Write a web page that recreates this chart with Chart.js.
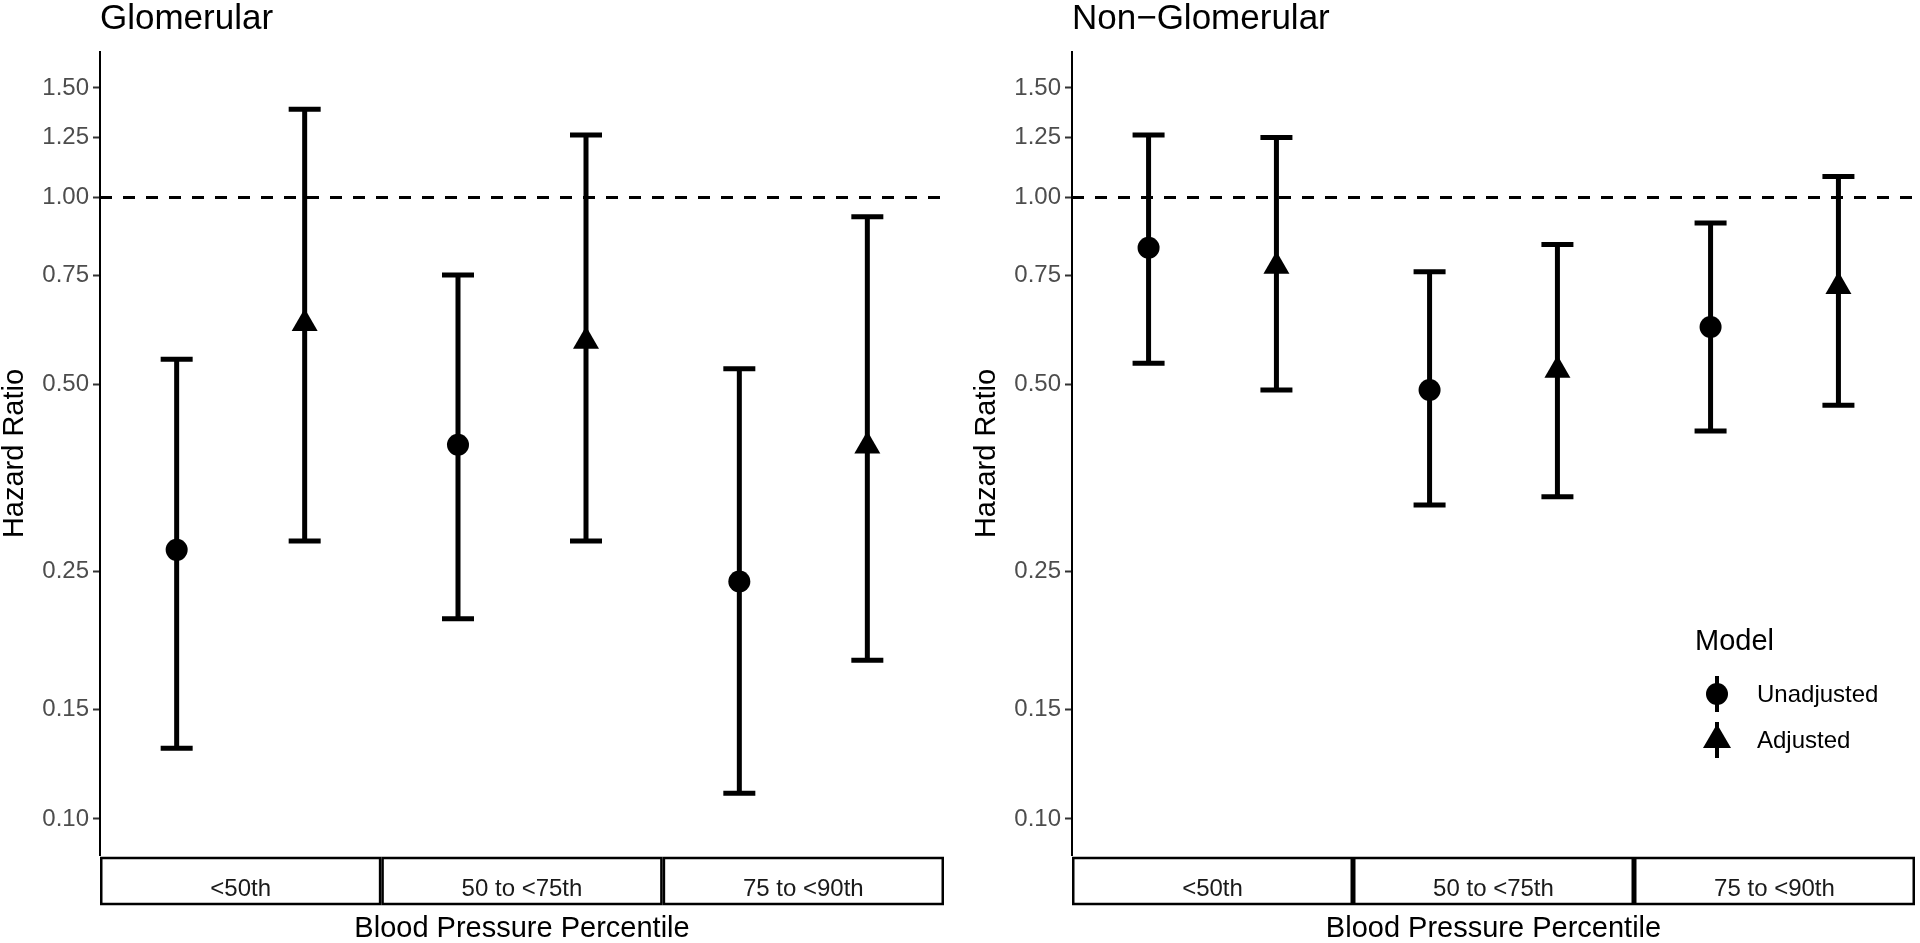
<!DOCTYPE html>
<html>
<head>
<meta charset="utf-8">
<script src="https://cdn.jsdelivr.net/npm/chart.js@4.4.1/dist/chart.umd.min.js"></script>
<style>
  html, body { margin: 0; padding: 0; background: #fff; }
  body { width: 1920px; height: 943px; position: relative; overflow: hidden; }
  canvas { position: absolute; top: 0; }
</style>
</head>
<body>
<canvas id="glom" width="960" height="943" style="left:0px"></canvas>
<canvas id="nonglom" width="958" height="943" style="left:972px"></canvas>
<script>
const categories = ['<50th', '50 to <75th', '75 to <90th'];
const models = ['Unadjusted', 'Adjusted'];
const yTicks = [0.10, 0.15, 0.25, 0.50, 0.75, 1.00, 1.25, 1.50];

// Glomerular
const glomUnadjHR = [0.271, 0.400, 0.241];
const glomUnadjLo = [0.130, 0.210, 0.110];
const glomUnadjHi = [0.549, 0.750, 0.530];
const glomAdjHR   = [0.627, 0.587, 0.398];
const glomAdjLo   = [0.280, 0.280, 0.180];
const glomAdjHi   = [1.387, 1.260, 0.931];

// Non-Glomerular
const nonUnadjHR = [0.830, 0.490, 0.619];
const nonUnadjLo = [0.541, 0.320, 0.421];
const nonUnadjHi = [1.260, 0.759, 0.910];
const nonAdjHR   = [0.775, 0.527, 0.719];
const nonAdjLo   = [0.490, 0.330, 0.463];
const nonAdjHi   = [1.249, 0.840, 1.081];

const FONT = "'Liberation Sans', Arial, Helvetica, sans-serif";
const DODGE = 0.2275;

// dashed reference line at HR = 1 plus the error bars, under the points
const errorBarPlugin = {
  id: 'errorBarPlugin',
  beforeDatasetsDraw(chart) {
    const { ctx, chartArea, scales: { x, y } } = chart;
    ctx.save();
    const y1 = y.getPixelForValue(1);
    ctx.strokeStyle = '#000';
    ctx.lineWidth = 3;
    ctx.setLineDash([12, 11]);
    ctx.beginPath();
    ctx.moveTo(chartArea.left, y1);
    ctx.lineTo(chartArea.right, y1);
    ctx.stroke();
    ctx.setLineDash([]);

    ctx.lineWidth = 5;
    chart.data.datasets.forEach((ds, di) => {
      const meta = chart.getDatasetMeta(di);
      meta.data.forEach((pt, i) => {
        const px = pt.x;
        const top = y.getPixelForValue(ds.errHi[i]);
        const bot = y.getPixelForValue(ds.errLo[i]);
        ctx.beginPath();
        ctx.moveTo(px, top); ctx.lineTo(px, bot);
        ctx.moveTo(px - 16, top); ctx.lineTo(px + 16, top);
        ctx.moveTo(px - 16, bot); ctx.lineTo(px + 16, bot);
        ctx.stroke();
      });
    });
    ctx.restore();
  }
};

// facet title + strip boxes under the panel
const stripPlugin = {
  id: 'stripPlugin',
  afterDraw(chart, args, opts) {
    const { ctx, chartArea, scales: { x } } = chart;
    ctx.save();
    ctx.fillStyle = '#000';
    ctx.font = '35px ' + FONT;
    ctx.textAlign = 'left';
    ctx.textBaseline = 'alphabetic';
    ctx.fillText(opts.title, chartArea.left, 29);

    ctx.strokeStyle = '#000';
    ctx.lineWidth = 2.5;
    categories.forEach((c, i) => {
      const x0 = x.getPixelForValue(i - 0.5);
      const x1 = x.getPixelForValue(i + 0.5);
      ctx.strokeRect(x0 + 1.25, chartArea.bottom + 3, x1 - x0 - 2.5, 46);
    });
    ctx.restore();
  }
};

const legendPlugin = {
  id: 'modelLegend',
  afterDraw(chart) {
    const { ctx, chartArea } = chart;
    const x0 = chartArea.right - 220;
    const b = chartArea.bottom;
    ctx.save();
    ctx.fillStyle = '#000';
    ctx.textBaseline = 'middle';
    ctx.textAlign = 'left';
    ctx.font = '29px ' + FONT;
    ctx.fillText('Model', x0, b - 213);
    ctx.font = '24px ' + FONT;
    const keyX = x0 + 22;
    models.forEach((m, i) => {
      const ky = b - 161 + i * 46;
      ctx.strokeStyle = '#000';
      ctx.lineWidth = 4;
      ctx.beginPath();
      ctx.moveTo(keyX, ky - 18); ctx.lineTo(keyX, ky + 18);
      ctx.stroke();
      ctx.beginPath();
      if (i === 0) {
        ctx.arc(keyX, ky, 11, 0, Math.PI * 2);
      } else {
        ctx.moveTo(keyX, ky - 16);
        ctx.lineTo(keyX + 14, ky + 8);
        ctx.lineTo(keyX - 14, ky + 8);
        ctx.closePath();
      }
      ctx.fill();
      ctx.fillText(m, x0 + 62, ky + 1);
    });
    ctx.restore();
  }
};

function makePanel(id, title, uHR, uLo, uHi, aHR, aLo, aHi, padRight, withLegend) {
  const datasets = [
    {
      label: models[0],
      data: categories.map((c, i) => ({ x: i - DODGE, y: uHR[i] })),
      errLo: uLo, errHi: uHi,
      pointStyle: 'circle', pointRadius: 11,
      backgroundColor: '#000', borderWidth: 0
    },
    {
      label: models[1],
      data: categories.map((c, i) => ({ x: i + DODGE, y: aHR[i] })),
      errLo: aLo, errHi: aHi,
      pointStyle: 'triangle', pointRadius: 15,
      backgroundColor: '#000', borderWidth: 0
    }
  ];
  const plugins = [errorBarPlugin, stripPlugin];
  if (withLegend) plugins.push(legendPlugin);

  return new Chart(document.getElementById(id), {
    type: 'scatter',
    data: { datasets },
    options: {
      responsive: false,
      animation: false,
      events: [],
      layout: { padding: { left: 0, top: 52, right: padRight, bottom: 0 } },
      plugins: {
        legend: { display: false },
        tooltip: { enabled: false },
        stripPlugin: { title }
      },
      scales: {
        x: {
          type: 'linear',
          min: -0.5, max: 2.5,
          afterBuildTicks: s => { s.ticks = categories.map((c, i) => ({ value: i })); },
          afterFit: s => { s.height = 88; },
          ticks: {
            autoSkip: false, maxRotation: 0, padding: 12,
            color: '#1a1a1a', font: { family: FONT, size: 24 },
            callback: v => categories[v]
          },
          grid: { display: false },
          border: { display: false },
          title: {
            display: true, text: 'Blood Pressure Percentile', color: '#000',
            font: { family: FONT, size: 29, lineHeight: 1 }, padding: 0
          }
        },
        y: {
          type: 'logarithmic',
          min: 0.0875, max: 1.714,
          afterBuildTicks: s => { s.ticks = yTicks.map(v => ({ value: v })); },
          afterFit: s => { s.width = 100; },
          ticks: {
            autoSkip: false, padding: 4,
            color: '#4d4d4d', font: { family: FONT, size: 24 },
            callback: v => Number(v).toFixed(2)
          },
          grid: {
            drawOnChartArea: false, drawTicks: true,
            tickLength: 7, tickColor: '#333', tickWidth: 2
          },
          border: { display: true, color: '#000', width: 2 },
          title: {
            display: true, text: 'Hazard Ratio', color: '#000',
            font: { family: FONT, size: 29, lineHeight: 1 }, padding: 0
          }
        }
      }
    },
    plugins
  });
}

makePanel('glom', 'Glomerular',
  glomUnadjHR, glomUnadjLo, glomUnadjHi, glomAdjHR, glomAdjLo, glomAdjHi, 16, false);
// chart.js keeps ~15px on the right anyway, so the canvas runs a bit past the window
makePanel('nonglom', 'Non\u2212Glomerular',
  nonUnadjHR, nonUnadjLo, nonUnadjHi, nonAdjHR, nonAdjLo, nonAdjHi, 0, true);
</script>
</body>
</html>
